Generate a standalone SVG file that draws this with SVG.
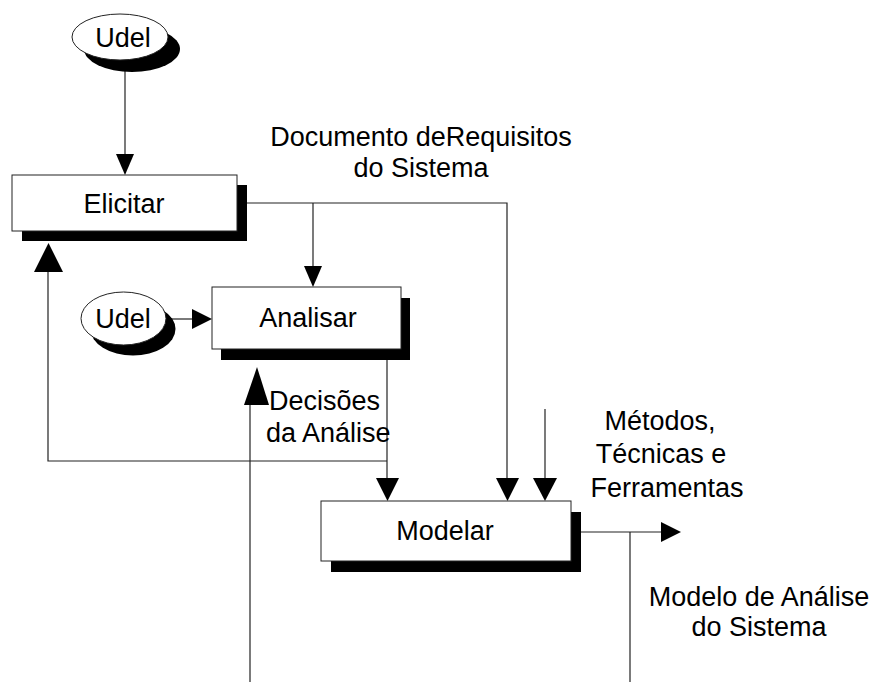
<svg xmlns="http://www.w3.org/2000/svg" width="872" height="682" viewBox="0 0 872 682">
<style>
  .t{font-family:"Liberation Sans",Arial,sans-serif;font-size:27px;fill:#000}
  .c{text-anchor:middle}
  .box{fill:#fff;stroke:#222;stroke-width:1}
  .sh{fill:#000}
  .ln{fill:none;stroke:#222;stroke-width:1.2}
  .ah{fill:#000}
</style>
<rect width="872" height="682" fill="#fff"/>
<g id="connectors">
  <line class="ln" x1="125" y1="60" x2="125" y2="155"/>
  <polygon class="ah" points="116,154 134,154 125,175"/>
  <polyline class="ln" points="247,203 507,203 507,478"/>
  <line class="ln" x1="313" y1="203" x2="313" y2="267"/>
  <polygon class="ah" points="304,266 322,266 313,287"/>
  <line class="ln" x1="167" y1="319" x2="194" y2="319"/>
  <polygon class="ah" points="192,309 192,329 212,319"/>
  <polyline class="ln" points="387,360 387,478"/>
  <polyline class="ln" points="48,272 48,461 387,461"/>
  <polygon class="ah" points="34,272 63,272 48.5,243"/>
  <line class="ln" x1="250" y1="405" x2="250" y2="682"/>
  <polygon class="ah" points="244,405 269,405 257,367"/>
  <polygon class="ah" points="376,478 399,478 387.5,501"/>
  <polygon class="ah" points="496,478 519,478 507.5,501"/>
  <line class="ln" x1="545" y1="409" x2="545" y2="478"/>
  <polygon class="ah" points="533,478 557,478 545,501"/>
  <line class="ln" x1="580" y1="532" x2="662" y2="532"/>
  <polygon class="ah" points="661,522 661,542 681,532"/>
  <line class="ln" x1="630" y1="532" x2="630" y2="682"/>
</g>
<g id="udel1">
  <ellipse class="sh" cx="132" cy="49" rx="48" ry="23"/>
  <ellipse class="box" cx="120" cy="37" rx="48" ry="23"/>
  <text class="t c" x="123" y="47">Udel</text>
</g>
<g id="elicitar">
  <rect class="sh" x="22" y="185" width="225" height="56"/>
  <rect class="box" x="12" y="175" width="225" height="56"/>
  <text class="t c" x="124" y="213">Elicitar</text>
</g>
<g id="udel2">
  <ellipse class="sh" cx="133" cy="329" rx="42.5" ry="26.5"/>
  <ellipse class="box" cx="123.5" cy="318.5" rx="42.5" ry="26.5"/>
  <text class="t c" x="123" y="328">Udel</text>
</g>
<g id="analisar">
  <rect class="sh" x="221" y="298" width="189" height="62"/>
  <rect class="box" x="212" y="287" width="189" height="62"/>
  <text class="t c" x="308" y="327">Analisar</text>
</g>
<g id="modelar">
  <rect class="sh" x="331" y="512" width="250" height="60"/>
  <rect class="box" x="321" y="501" width="250" height="60"/>
  <text class="t c" x="445" y="540">Modelar</text>
</g>
<g id="labels">
  <text class="t c" x="421" y="146">Documento deRequisitos</text>
  <text class="t c" x="421" y="177">do Sistema</text>
  <text class="t" x="269" y="410">Decisões</text>
  <text class="t" x="266" y="442">da Análise</text>
  <text class="t c" x="660" y="430">Métodos,</text>
  <text class="t c" x="661" y="463">Técnicas e</text>
  <text class="t c" x="667" y="497">Ferramentas</text>
  <text class="t c" x="759" y="606">Modelo de Análise</text>
  <text class="t c" x="759" y="636">do Sistema</text>
</g>
</svg>
